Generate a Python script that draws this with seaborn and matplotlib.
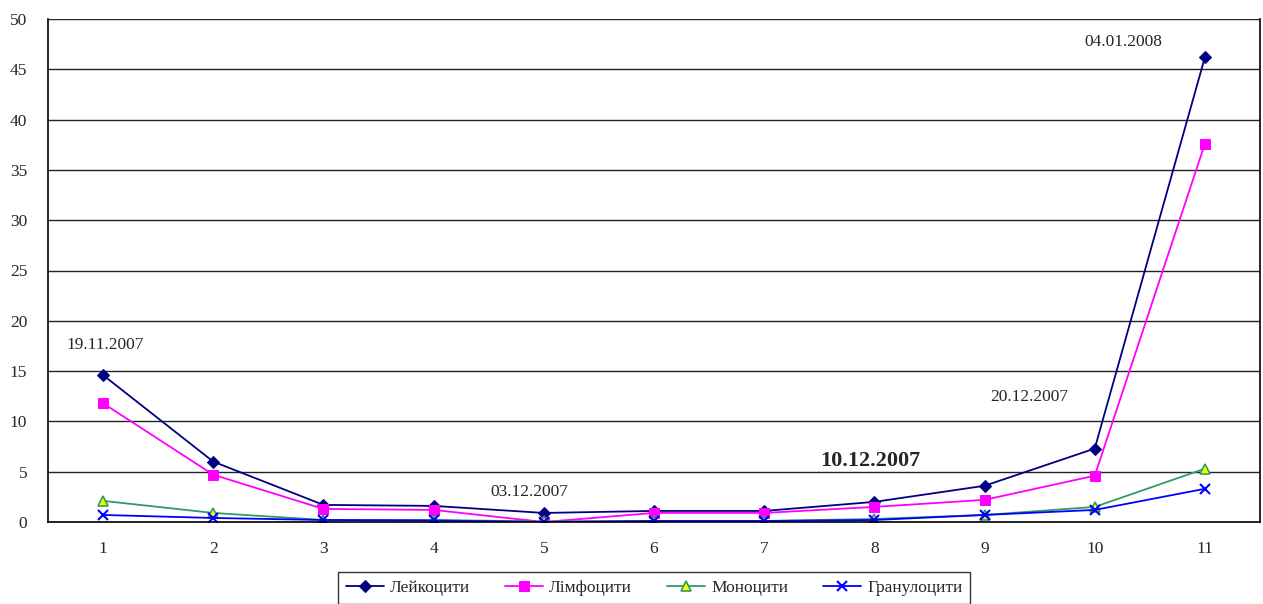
import matplotlib
matplotlib.use('Agg')
import matplotlib.pyplot as plt
import numpy as np
import pandas as pd
import seaborn as sns

# DATA
days = list(range(1, 12))
leukocytes = [14.6, 6.0, 1.7, 1.6, 0.9, 1.1, 1.1, 2.0, 3.6, 7.3, 46.2]
lymphocytes = [11.8, 4.7, 1.3, 1.2, 0.0, 0.9, 0.9, 1.5, 2.2, 4.6, 37.6]
monocytes = [2.1, 0.9, 0.2, 0.2, 0.05, 0.1, 0.1, 0.3, 0.7, 1.5, 5.3]
granulocytes = [0.7, 0.4, 0.2, 0.15, 0.0, 0.1, 0.1, 0.2, 0.7, 1.2, 3.3]
series_names = ['Лейкоцити', 'Лімфоцити', 'Моноцити', 'Гранулоцити']

# DATE NOTES: (text, x, y, bold)
notes = [('19.11.2007', 1.02, 17.6, False),
         ('03.12.2007', 4.87, 3.0, False),
         ('10.12.2007', 7.96, 6.1, True),
         ('20.12.2007', 9.41, 12.4, False),
         ('04.01.2008', 10.26, 47.7, False)]

df = pd.DataFrame({'day': days * 4,
                   'value': leukocytes + lymphocytes + monocytes + granulocytes,
                   'series': np.repeat(series_names, len(days))})

sns.set_style('white')
plt.rcParams['font.family'] = ['Liberation Serif', 'DejaVu Serif']

fig = plt.figure(figsize=(12.63, 6.04), dpi=100)
ax = fig.add_axes([48 / 1263, 82 / 604, 1212 / 1263, 503 / 604])

styles = {
    'Лейкоцити': dict(color='#000080', marker='D', ms=6, mfc='#000080', mec='#000080'),
    'Лімфоцити': dict(color='#FF00FF', marker='s', ms=7, mfc='#FF00FF', mec='#FF00FF'),
    'Моноцити': dict(color='#339966', marker='^', ms=6.5, mfc='#FFFF00', mec='#339966', mew=1.2),
    'Гранулоцити': dict(color='#0000FF', marker='x', ms=7, mec='#0000FF', mew=1.5),
}
for name in series_names:
    st = styles[name]
    sns.lineplot(data=df[df['series'] == name], x='day', y='value', ax=ax,
                 label=name, lw=1.3, **st)

# GRID AND AXES
ax.set_ylim(0, 50)
ax.set_xlim(0.5, 11.5)
ax.set_yticks(np.arange(0, 51, 5))
ax.set_xticks(days)
ax.set_xticks(np.arange(0.5, 12, 1), minor=True)
ax.yaxis.grid(True, color='#222222', lw=1.0)
ax.xaxis.grid(False)
ax.set_axisbelow(True)
ax.tick_params(axis='x', which='major', length=0, pad=14, labelsize=12.5)
ax.tick_params(axis='x', which='minor', length=4.5, width=1, color='black', direction='out')
ax.tick_params(axis='y', length=5, width=1, color='black', direction='out', labelsize=12.5, pad=10)
ax.set_xlabel('')
ax.set_ylabel('')
for side in ['left', 'bottom', 'right']:
    ax.spines[side].set_color('black')
    ax.spines[side].set_linewidth(1.2)
ax.spines['top'].set_visible(False)

# DATE LABELS
for text, x, y, bold in notes:
    ax.text(x, y, text, ha='center', va='center',
            fontsize=16 if bold else 12.5, fontweight='bold' if bold else 'normal')

# LEGEND
leg = ax.legend(loc='upper center', bbox_to_anchor=(654 / 1263, 32 / 604),
                bbox_transform=fig.transFigure, ncol=4, frameon=True, fancybox=False,
                edgecolor='black', fontsize=12.5, handlelength=2.2, columnspacing=2.0,
                borderpad=0.45, handletextpad=0.35, borderaxespad=0)
leg.get_frame().set_linewidth(1.0)

fig.savefig('out.png', dpi=100)
